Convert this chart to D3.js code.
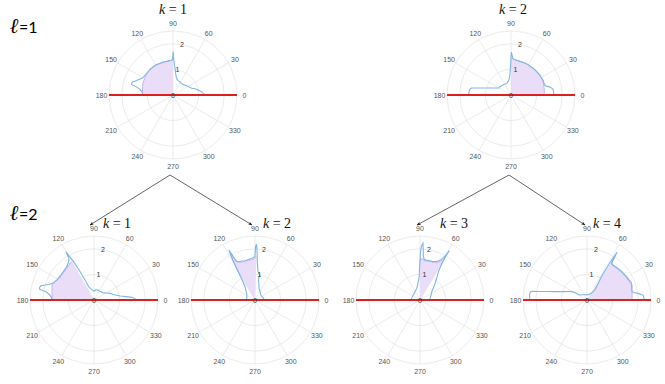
<!DOCTYPE html>
<html>
<head>
<meta charset="utf-8">
<script src="https://cdn.jsdelivr.net/npm/d3@7"></script>
<style>
  body { margin: 0; background: #fff; }
  svg { display: block; }
  .theta-label, .r-label { font-family: "Liberation Sans", Arial, sans-serif; font-size: 7px; }
  .theta-label { fill: #555; }
  .r-label { fill: #333; }
  .panel-title { font-family: "Liberation Serif", "DejaVu Serif", serif; font-size: 14px; fill: #111; }
  .level-l { font-family: "DejaVu Serif", serif; font-style: italic; font-weight: bold; font-size: 21px; fill: #000; }
  .level-n { font-family: Lato, "Open Sans", sans-serif; font-size: 16px; fill: #000; }
</style>
</head>
<body>
<svg id="chart"></svg>
<script>
// ---- data (angle in degrees, radius) ----
const thetaTicks = [0, 30, 60, 90, 120, 150, 180, 210, 240, 270, 300, 330];
const rTicks = [0, 1, 2];
const rMax = 2.5;
const panelTitles = ["1", "2", "1", "2", "3", "4"];
const levelLabels = ["=1", "=2"];

// l=1, k=1
const curveL1K1 = [[0, 1.18], [2, 1.2], [5, 1.15], [7, 1.11], [10, 1.03], [14, 0.94], [17, 0.86], [20, 0.78],
  [25, 0.72], [32, 0.66], [40, 0.6], [48, 0.57], [55, 0.56], [62, 0.58], [70, 0.6], [76, 0.64], [80, 0.72],
  [83, 0.85], [85, 1.0], [87, 1.15], [88.3, 1.3], [89.2, 1.5], [89.7, 1.7], [90.2, 1.55], [90.6, 1.4],
  [93, 1.36], [98, 1.34], [105, 1.34], [113, 1.34], [120, 1.35], [125, 1.35], [132, 1.34], [138, 1.33],
  [142, 1.33], [146, 1.34], [151, 1.36], [155, 1.45], [159, 1.55], [162, 1.66], [164, 1.68], [166, 1.66],
  [167, 1.5], [170, 1.32], [173, 1.24], [176, 1.2], [180, 1.17]];
const fillL1K1 = [[90, 1.37], [95, 1.35], [100, 1.34], [105, 1.345], [110, 1.34], [115, 1.34], [120, 1.345],
  [125, 1.34], [130, 1.33], [135, 1.33], [140, 1.32], [145, 1.31], [150, 1.28], [155, 1.27], [160, 1.26],
  [165, 1.23], [170, 1.21], [175, 1.2], [180, 1.18]];

// l=1, k=2
const curveL1K2 = [[0, 1.67], [2, 1.67], [5, 1.67], [8, 1.65], [10, 1.6], [12, 1.53], [14, 1.43], [16, 1.38],
  [20, 1.37], [25, 1.38], [30, 1.37], [35, 1.37], [40, 1.36], [45, 1.36], [50, 1.36], [55, 1.35], [60, 1.36],
  [65, 1.36], [70, 1.36], [75, 1.36], [80, 1.37], [84, 1.39], [87, 1.43], [88.5, 1.55], [89.3, 1.68],
  [90, 1.5], [90.5, 1.2], [91.5, 1.0], [93, 0.8], [96, 0.65], [100, 0.56], [108, 0.5], [117, 0.48],
  [125, 0.5], [135, 0.51], [145, 0.55], [150, 0.55], [155, 0.65], [160, 0.8], [163, 0.93], [165, 1.06],
  [167, 1.21], [168.5, 1.38], [170, 1.57], [172, 1.62], [175, 1.64], [178, 1.65], [180, 1.65]];
const fillL1K2 = [[0, 1.3], [3, 1.3], [6, 1.31], [10, 1.32], [15, 1.33], [20, 1.35], [25, 1.36], [30, 1.36],
  [35, 1.355], [40, 1.36], [42, 1.33], [44, 1.36], [47, 1.33], [50, 1.36], [53, 1.34], [56, 1.36], [60, 1.36],
  [65, 1.36], [70, 1.36], [75, 1.36], [80, 1.37], [85, 1.39], [88, 1.42], [90, 1.42]];

// l=2, k=1
const curveL2K1 = [[0, 1.63], [2, 1.6], [4, 1.49], [6, 1.25], [8.6, 1.04], [12, 0.9], [16, 0.78], [22, 0.69],
  [30, 0.55], [40, 0.45], [53, 0.41], [62, 0.41], [70, 0.42], [80, 0.4], [90, 0.35], [100, 0.4], [108, 0.48],
  [112, 0.56], [114, 0.8], [116, 1.23], [118, 1.7], [119.5, 2.0], [120.3, 2.18], [120.8, 1.95], [121.5, 1.87],
  [124, 1.78], [130, 1.68], [137, 1.63], [145, 1.62], [152, 1.65], [157, 1.72], [161, 1.85], [163, 2.0],
  [165, 2.15], [167, 2.18], [169, 2.16], [170, 1.95], [171, 1.86], [174, 1.72], [177, 1.66], [180, 1.64]];
const fillL2K1 = [[120, 1.73], [122, 1.7], [124, 1.72], [126, 1.66], [128, 1.69], [130, 1.63], [132, 1.66],
  [134, 1.6], [136, 1.64], [138, 1.59], [140, 1.63], [142, 1.58], [144, 1.62], [146, 1.58], [148, 1.62],
  [151, 1.63], [154, 1.67], [157, 1.7], [160, 1.745], [165, 1.7], [170, 1.665], [175, 1.645], [180, 1.64]];

// l=2, k=2
const curveL2K2 = [[0, 0.33], [6, 0.35], [15, 0.33], [30, 0.3], [41, 0.3], [55, 0.36], [65, 0.42], [71, 0.48],
  [76, 0.62], [80, 0.8], [80.5, 0.9], [79, 1.0], [82, 1.05], [84, 1.12], [85.5, 1.3], [86.5, 1.5], [87.2, 1.75],
  [87.8, 2.0], [88.5, 2.18], [89.3, 2.1], [89.8, 1.85], [90, 1.7], [92, 1.66], [96, 1.62], [100, 1.6],
  [104, 1.58], [108, 1.6], [112, 1.62], [115, 1.65], [116, 1.74], [116.8, 1.95], [117.5, 2.2], [118.2, 2.05],
  [119, 1.8], [120, 1.5], [121.6, 1.07], [124, 0.8], [128, 0.62], [133, 0.53], [140, 0.43], [150, 0.37],
  [160, 0.34], [173, 0.33], [180, 0.33]];
const fillL2K2 = [[88, 1.68], [90, 1.66], [93, 1.58], [95, 1.62], [97, 1.56], [99, 1.6], [101, 1.55],
  [103, 1.59], [105, 1.54], [107, 1.58], [109, 1.55], [111, 1.6], [113, 1.6], [115, 1.65], [116, 1.74],
  [117.5, 2.1], [119, 1.8], [121.6, 1.07]];

// l=2, k=3
const curveL2K3 = [[0, 0.39], [6, 0.39], [15, 0.42], [25, 0.48], [35, 0.56], [42, 0.7], [48, 0.88], [53, 1.1],
  [57, 1.32], [59, 1.66], [59.5, 1.95], [59.3, 2.24], [60.2, 2.0], [61, 1.9], [63, 1.75], [66, 1.65],
  [69, 1.61], [72, 1.58], [76, 1.58], [80.5, 1.58], [84, 1.59], [85.5, 1.7], [86.3, 1.95], [87, 2.22],
  [88.5, 2.1], [89.5, 1.85], [90, 1.5], [91, 1.2], [92, 0.91], [96, 0.7], [100, 0.57], [106, 0.47],
  [120, 0.38], [143, 0.33], [160, 0.33], [173, 0.33], [180, 0.33]];
const fillL2K3 = [[59, 1.6], [59.5, 1.9], [61, 1.78], [63, 1.68], [65, 1.62], [67, 1.57], [69, 1.6], [71, 1.54],
  [73, 1.58], [75, 1.53], [77, 1.57], [79, 1.52], [81, 1.56], [83, 1.53], [85, 1.58], [87, 1.62], [89, 1.6],
  [90, 1.5]];

// l=2, k=4
const curveL2K4 = [[0, 2.24], [1, 2.23], [3, 2.22], [5, 2.2], [7.4, 2.0], [9, 1.85], [10.5, 1.79], [14, 1.8],
  [18, 1.84], [22, 1.86], [26, 1.81], [30, 1.79], [34, 1.77], [40, 1.75], [46, 1.73], [50, 1.71], [54, 1.7],
  [56.4, 1.75], [57, 1.95], [57.8, 2.2], [58.2, 1.9], [58.4, 1.5], [58.4, 1.07], [56, 0.8], [52.5, 0.49],
  [57, 0.31], [70, 0.24], [90, 0.2], [110, 0.22], [130, 0.27], [146, 0.35], [149, 0.6], [152, 0.7],
  [155, 0.78], [160, 0.96], [163, 1.12], [165.5, 1.3], [168, 1.59], [170, 1.9], [171, 2.15], [172, 2.24],
  [175, 2.25], [178, 2.24], [180, 2.24]];
const fillL2K4 = [[0, 1.76], [5, 1.77], [10, 1.79], [15, 1.82], [20, 1.86], [22, 1.8], [24, 1.84], [26, 1.78],
  [28, 1.82], [30, 1.76], [32, 1.8], [34, 1.74], [36, 1.78], [38, 1.72], [40, 1.76], [42, 1.7], [44, 1.74],
  [46, 1.69], [48, 1.72], [50, 1.68], [52, 1.71], [54, 1.68], [56, 1.72], [57.5, 1.95]];

// ---- layout ----
const svg = d3.select("#chart").attr("width", 665).attr("height", 384);

const defs = svg.append("defs");
defs.append("marker")
  .attr("id", "arrow")
  .attr("viewBox", "0 0 10 10")
  .attr("refX", 9)
  .attr("refY", 5)
  .attr("markerWidth", 6)
  .attr("markerHeight", 6)
  .attr("orient", "auto")
  .append("path")
  .attr("d", "M0,1 L10,5 L0,9 L3,5 Z")
  .attr("fill", "#222");

class PolarPanel {
  constructor(_config, _curve, _fill) {
    this.config = {
      cx: _config.cx,
      cy: _config.cy,
      radius: _config.radius || 64,
      title: _config.title,
      titleX: _config.titleX,
      titleY: _config.titleY,
    };
    this.curve = _curve;
    this.fill = _fill;
    this.initVis();
  }

  initVis() {
    let vis = this;
    const R = vis.config.radius;
    const toRad = (d) => (d * Math.PI) / 180;

    vis.rScale = d3.scaleLinear().domain([0, rMax]).range([0, R]);

    vis.g = svg.append("g")
      .attr("transform", `translate(${vis.config.cx},${vis.config.cy})`);

    // grid rings and spokes
    vis.g.selectAll(".ring")
      .data([1, 2, rMax])
      .join("circle")
      .attr("class", "ring")
      .attr("r", (d) => vis.rScale(d))
      .attr("fill", "none")
      .attr("stroke", "#e6e6e6")
      .attr("stroke-width", 0.8);

    vis.g.selectAll(".spoke")
      .data(thetaTicks)
      .join("line")
      .attr("class", "spoke")
      .attr("x1", 0)
      .attr("y1", 0)
      .attr("x2", (d) => R * Math.cos(toRad(d)))
      .attr("y2", (d) => -R * Math.sin(toRad(d)))
      .attr("stroke", "#e6e6e6")
      .attr("stroke-width", 0.8);

    vis.radial = d3.lineRadial()
      .angle((d) => toRad(90 - d[0]))
      .radius((d) => vis.rScale(d[1]));

    // filled region
    const poly = [[vis.fill[0][0], 0], ...vis.fill, [vis.fill[vis.fill.length - 1][0], 0]];
    vis.g.append("path")
      .attr("d", vis.radial(poly) + "Z")
      .attr("fill", "#e9dbf8")
      .attr("fill-opacity", 0.95);

    vis.g.append("path")
      .attr("d", vis.radial(vis.fill))
      .attr("fill", "none")
      .attr("stroke", "#ad9fe6")
      .attr("stroke-width", 0.7);

    // measured curve
    vis.g.append("path")
      .attr("d", vis.radial(vis.curve))
      .attr("fill", "none")
      .attr("stroke", "#82b5e4")
      .attr("stroke-width", 1.1);

    // horizontal red line
    vis.g.append("line")
      .attr("x1", -R)
      .attr("x2", R)
      .attr("y1", 0)
      .attr("y2", 0)
      .attr("stroke", "#dd1f1f")
      .attr("stroke-width", 1.8);

    // theta labels
    vis.g.selectAll(".theta-label")
      .data(thetaTicks)
      .join("text")
      .attr("class", "theta-label")
      .attr("x", (d) => (R + 7.5) * Math.cos(toRad(d)))
      .attr("y", (d) => -(R + 7.5) * Math.sin(toRad(d)))
      .attr("text-anchor", "middle")
      .attr("dominant-baseline", "central")
      .text((d) => d);

    // r tick labels (at 80 degrees)
    vis.g.selectAll(".r-label")
      .data(rTicks)
      .join("text")
      .attr("class", "r-label")
      .attr("x", (d) => vis.rScale(d) * Math.cos(toRad(80)))
      .attr("y", (d) => -vis.rScale(d) * Math.sin(toRad(80)))
      .attr("text-anchor", "middle")
      .attr("dominant-baseline", "central")
      .text((d) => d);

    // title
    const t = svg.append("text")
      .attr("class", "panel-title")
      .attr("x", vis.config.titleX)
      .attr("y", vis.config.titleY)
      .attr("text-anchor", "middle");
    t.append("tspan").attr("font-style", "italic").text("k");
    t.append("tspan").text(" = " + vis.config.title);
  }
}

const panels = [
  { cx: 173, cy: 95, titleX: 173, titleY: 13.5, curve: curveL1K1, fill: fillL1K1 },
  { cx: 511, cy: 95, titleX: 513, titleY: 13.5, curve: curveL1K2, fill: fillL1K2 },
  { cx: 94, cy: 300, titleX: 117, titleY: 228, curve: curveL2K1, fill: fillL2K1 },
  { cx: 255, cy: 300, titleX: 277, titleY: 228, curve: curveL2K2, fill: fillL2K2 },
  { cx: 420, cy: 300, titleX: 454, titleY: 228, curve: curveL2K3, fill: fillL2K3 },
  { cx: 587, cy: 300, titleX: 607, titleY: 228, curve: curveL2K4, fill: fillL2K4 },
];

panels.forEach((p, i) => {
  new PolarPanel({ cx: p.cx, cy: p.cy, title: panelTitles[i], titleX: p.titleX, titleY: p.titleY }, p.curve, p.fill);
});

// tree arrows
const arrows = [
  [170, 175, 90, 225], [170, 175, 252, 225],
  [509, 175, 417, 225], [509, 175, 585, 225],
];
svg.selectAll(".tree-arrow")
  .data(arrows)
  .join("line")
  .attr("class", "tree-arrow")
  .attr("x1", (d) => d[0])
  .attr("y1", (d) => d[1])
  .attr("x2", (d) => d[2])
  .attr("y2", (d) => d[3])
  .attr("stroke", "#222")
  .attr("stroke-width", 0.7)
  .attr("marker-end", "url(#arrow)");

// level labels
[33, 220].forEach((y, i) => {
  const t = svg.append("text").attr("x", 10).attr("y", y);
  t.append("tspan").attr("class", "level-l").text("\u2113");
  t.append("tspan").attr("class", "level-n").text(levelLabels[i]);
});
</script>
</body>
</html>
